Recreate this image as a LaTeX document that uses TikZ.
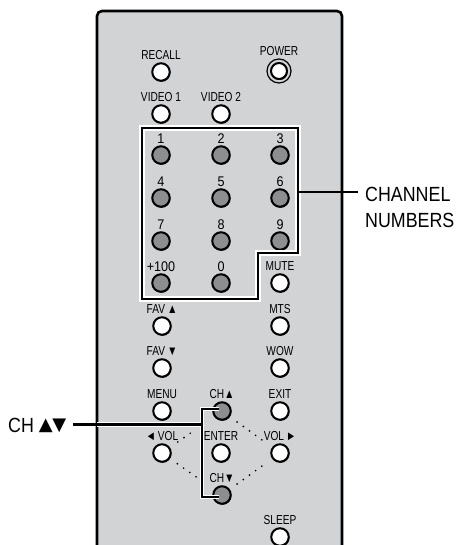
\documentclass[tikz,border=0pt]{standalone}
\usepackage{fontspec}
\setmainfont{Liberation Sans}
\newfontfamily\keyfont[FakeStretch=0.78]{Liberation Sans}
\newfontfamily\digitfont[FakeStretch=0.9]{Liberation Sans}
\newfontfamily\sidefont[FakeStretch=0.87]{Liberation Sans}
\newfontfamily\symfont{DejaVu Sans}
\usepackage{xcolor}
\usepackage{tikz}
\usetikzlibrary{positioning,shadows}
\definecolor{panelgray}{HTML}{D1D3D4}
\definecolor{keygray}{HTML}{8C8E90}
\tikzset{
  keywhite/.style={circle, draw=black, fill=white, line width=2pt, minimum size=17.5pt, inner sep=0pt,
    general shadow={fill=black, shadow xshift=0.6pt, shadow yshift=-1pt}},
  keydark/.style={keywhite, fill=keygray},
  keyring/.style={circle, draw=black, line width=1.2pt, minimum size=24pt, inner sep=0pt},
  keytext/.style={font=\keyfont\fontsize{13}{13}\selectfont, inner sep=0pt, text height=9pt, text depth=0pt, above=2.5pt of #1},
  numtext/.style={font=\digitfont\fontsize{14}{14}\selectfont, inner sep=0pt, text height=10pt, text depth=0pt, above=1.5pt of #1},
  sidetext/.style={font=\sidefont\fontsize{20.5}{20.5}\selectfont, inner sep=0pt, anchor=base west},
  halo/.style={draw=white, line width=5.4pt},
  leader/.style={draw=black, line width=2.7pt},
  dotline/.style={line width=1.9pt, line cap=round, dash pattern=on 0pt off 7.6pt}
}
\begin{document}
\begin{tikzpicture}[x=1pt,y=-1pt]
  \useasboundingbox (0,0) rectangle (455,545);

  % Case of the remote, cut off at the bottom of the page.
  \path[fill=panelgray, draw=black, line width=2.6pt, rounded corners=5pt]
    (97,548) -- (97,11) -- (342,11) -- (342,548);

  \node[keywhite] (recall) at (161,72) {};
  \node[keyring] (powerring) at (279,71) {};
  \node[keywhite, minimum size=16pt] (power) at (279,71) {};
  \node[keywhite] (video1) at (161,114) {};
  \node[keywhite] (video2) at (221,114) {};
  \node[keydark] (num1) at (161,155) {};
  \node[keydark] (num2) at (221,155) {};
  \node[keydark] (num3) at (280,155) {};
  \node[keydark] (num4) at (161,198) {};
  \node[keydark] (num5) at (221,198) {};
  \node[keydark] (num6) at (280,198) {};
  \node[keydark] (num7) at (161,241) {};
  \node[keydark] (num8) at (221,241) {};
  \node[keydark] (num9) at (280,241) {};
  \node[keydark] (num100) at (161,283) {};
  \node[keydark] (num0) at (221,283) {};
  \node[keywhite] (mute) at (280,283) {};
  \node[keywhite] (favup) at (162,326) {};
  \node[keywhite] (mts) at (280,326) {};
  \node[keywhite] (favdown) at (162,368) {};
  \node[keywhite] (wow) at (280,368) {};
  \node[keywhite] (menu) at (162,411) {};
  \node[keydark] (chup) at (222,411) {};
  \node[keywhite] (exit) at (280,411) {};
  \node[keywhite] (volleft) at (162,453) {};
  \node[keywhite] (enter) at (221,453) {};
  \node[keywhite] (volright) at (280,453) {};
  \node[keydark] (chdown) at (222,495) {};
  \node[keywhite] (sleep) at (280,537) {};

  \node[keytext=recall] (recalltext) {RECALL};
  \node[keytext=powerring] (powertext) {POWER};
  \node[keytext=video1] (video1text) {VIDEO 1};
  \node[keytext=video2] (video2text) {VIDEO 2};
  \node[numtext=num1] (num1text) {1};
  \node[numtext=num2] (num2text) {2};
  \node[numtext=num3] (num3text) {3};
  \node[numtext=num4] (num4text) {4};
  \node[numtext=num5] (num5text) {5};
  \node[numtext=num6] (num6text) {6};
  \node[numtext=num7] (num7text) {7};
  \node[numtext=num8] (num8text) {8};
  \node[numtext=num9] (num9text) {9};
  \node[numtext=num100] (num100text) {+100};
  \node[numtext=num0] (num0text) {0};
  \node[keytext=mute] (mutetext) {MUTE};
  \node[keytext=favup] (favuptext) {FAV\,▲};
  \node[keytext=mts] (mtstext) {MTS};
  \node[keytext=favdown] (favdowntext) {FAV\,▼};
  \node[keytext=wow] (wowtext) {WOW};
  \node[keytext=menu] (menutext) {MENU};
  \node[keytext=chup] (chuptext) {CH▲};
  \node[keytext=exit] (exittext) {EXIT};
  \node[keytext=volleft] (vollefttext) {◄\,VOL};
  \node[keytext=enter] (entertext) {ENTER};
  \node[keytext=volright] (volrighttext) {VOL\,►};
  \node[keytext=chdown] (chdowntext) {CH▼};
  \node[keytext=sleep] (sleeptext) {SLEEP};

  % Dotted diamond round the channel and volume keys.
  \draw[dotline, shorten <=9.5pt, shorten >=26pt] (volleft) -- (chup);
  \draw[dotline, shorten <=9pt, shorten >=9pt] (chup) -- (volright);
  \draw[dotline, shorten <=9pt, shorten >=20pt] (volleft) -- (chdown);
  \draw[dotline, shorten <=9pt, shorten >=9pt] (chdown) -- (volright);

  \node[sidetext] (chantext) at (365,201) {CHANNEL};
  \node[sidetext] (numberstext) at (365,227) {NUMBERS};
  \node[sidetext] (chtext) at (8,432) {CH\hspace{5pt}{\symfont\fontsize{18}{18}\selectfont\raisebox{2pt}{▲\hspace{-0.5pt}▼}}};

  \coordinate (framea) at (142,128);
  \coordinate (frameb) at (298,128);
  \coordinate (framec) at (298,253);
  \coordinate (framed) at (258,253);
  \coordinate (framee) at (258,299);
  \coordinate (framef) at (142,299);
  \coordinate (framejoin) at (298,192);
  \coordinate (chjoin) at (202,424.5);
  \coordinate (chtop) at (202,409);
  \coordinate (chbottom) at (202,497);
  \coordinate (chtail) at (73,424.5);

  % White halo first, black line on top of it.
  \path[halo, line cap=rect] (framea) -- (frameb) -- (framec) -- (framed) -- (framee) -- (framef) -- cycle;
  \path[leader, line cap=rect] (framea) -- (frameb) -- (framec) -- (framed) -- (framee) -- (framef) -- cycle;
  \path[leader] (framejoin) -- (358,192);

  \path[halo, line width=4.2pt] ([xshift=-3pt]chtop -| chup) -- (chtop) -- (chbottom) -- ([xshift=-3pt]chbottom -| chdown);
  \path[halo, line width=4.2pt] (97,424.5) -- (chjoin);
  \path[leader] ([xshift=-3pt]chtop -| chup) -- (chtop) -- (chbottom) -- ([xshift=-3pt]chbottom -| chdown);
  \path[leader] (chtail) -- (chjoin);
\end{tikzpicture}
\end{document}
